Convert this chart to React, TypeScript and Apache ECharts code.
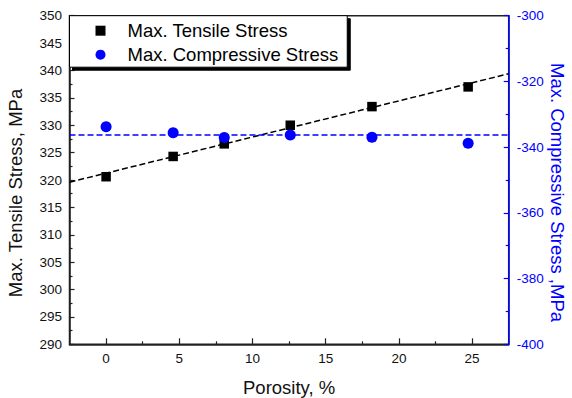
import React, { useEffect, useRef } from "react";
import * as echarts from "echarts";

const porosity = [0, 4.58, 8.07, 12.58, 18.16, 24.73];
const tensileStress = [320.6, 324.3, 326.6, 330.0, 333.4, 337.0];
const compressiveStress = [-333.8, -335.6, -337.1, -336.3, -337.0, -338.8];
const fitPorosity = [-2.5, 27.5];
const tensileFit = [319.6, 339.4];
const compressiveFit = [-336.3, -336.3];
const xMajorTicks = [0, 5, 10, 15, 20, 25];
const xMinorTicks = [2.5, 7.5, 12.5, 17.5, 22.5];

const FONT = "'Liberation Sans', Arial, sans-serif";
const BLUE = "#0000ff";
const BLACK = "#000000";

const pairs = (xs: number[], ys: number[]) => xs.map((x, i) => [x, ys[i]]);

export default function App() {
  const ref = useRef<HTMLDivElement>(null);
  useEffect(() => {
    if (!ref.current) return;
    const chart = echarts.init(ref.current, null, { renderer: "svg" });
    chart.setOption({
      animation: false,
      backgroundColor: "#ffffff",
      textStyle: { fontFamily: FONT },
      grid: {
        left: 69.5,
        right: 63.3,
        top: 15.7,
        bottom: 53.7,
        containLabel: false,
        outerBoundsMode: "none",
        show: true,
        borderColor: "#222",
        borderWidth: 1.5,
        backgroundColor: "transparent",
      },
      legend: {
        orient: "vertical",
        left: 69.5,
        top: 15.7,
        data: [
          { name: "Max. Tensile Stress", icon: "rect" },
          { name: "Max. Compressive Stress", icon: "circle" },
        ],
        itemWidth: 10,
        itemHeight: 10,
        itemGap: 5,
        padding: [5.5, 9, 3, 26],
        backgroundColor: "#ffffff",
        borderColor: "#000",
        borderWidth: 1,
        shadowColor: "#000",
        shadowBlur: 0,
        shadowOffsetX: 3,
        shadowOffsetY: 3,
        textStyle: { fontFamily: FONT, fontSize: 18.5, color: "#000", padding: [0, 0, 0, 17] },
      },
      xAxis: [
        {
          type: "value",
          min: -2.5,
          max: 27.5,
          position: "bottom",
          name: "Porosity, %",
          nameLocation: "middle",
          nameGap: 34,
          nameMoveOverlap: false,
          nameTextStyle: { fontFamily: FONT, fontSize: 18.5, color: "#111", verticalAlign: "top" },
          axisLine: { onZero: false, lineStyle: { color: "#222", width: 1.5 } },
          axisTick: { inside: true, length: 6, customValues: xMajorTicks, lineStyle: { color: "#222", width: 1.2 } },
          axisLabel: { customValues: xMajorTicks, margin: 7, fontFamily: FONT, fontSize: 13.5, color: "#111" },
          splitLine: { show: false },
        },
        {
          type: "value",
          min: -2.5,
          max: 27.5,
          position: "bottom",
          axisLine: { show: false, onZero: false },
          axisTick: { inside: true, length: 3, customValues: xMinorTicks, lineStyle: { color: "#222", width: 1.2 } },
          axisLabel: { show: false },
          splitLine: { show: false },
        },
      ],
      yAxis: [
        {
          type: "value",
          min: 290,
          max: 350,
          interval: 5,
          position: "left",
          name: "Max. Tensile Stress, MPa",
          nameLocation: "middle",
          nameGap: 45,
          nameMoveOverlap: false,
          nameTextStyle: { fontFamily: FONT, fontSize: 18.5, color: "#111", padding: [0, 26, 0, 0] },
          axisLine: { show: true, onZero: false, lineStyle: { color: "#222", width: 1.5 } },
          axisTick: { show: true, inside: true, length: 5, lineStyle: { color: "#222", width: 1.2 } },
          minorTick: { show: true, splitNumber: 2, length: 3, lineStyle: { color: "#222", width: 1.2 } },
          axisLabel: { margin: 7.5, fontFamily: FONT, fontSize: 13.5, color: "#111" },
          splitLine: { show: false },
        },
        {
          type: "value",
          min: -400,
          max: -300,
          interval: 20,
          position: "right",
          name: "Max. Compressive Stress ,MPa",
          nameLocation: "middle",
          nameRotate: -90,
          nameGap: 39,
          nameMoveOverlap: false,
          nameTextStyle: { fontFamily: FONT, fontSize: 18.5, color: BLUE, padding: [0, 0, 0, 25] },
          axisLine: { show: true, onZero: false, lineStyle: { color: BLUE, width: 1.5 } },
          axisTick: { show: true, inside: true, length: 5, lineStyle: { color: BLUE, width: 1.2 } },
          minorTick: { show: true, splitNumber: 2, length: 3, lineStyle: { color: BLUE, width: 1.2 } },
          axisLabel: { margin: 8, fontFamily: FONT, fontSize: 13.5, color: BLUE },
          splitLine: { show: false },
        },
      ],
      series: [
        {
          name: "Tensile fit",
          type: "line",
          xAxisIndex: 0,
          yAxisIndex: 0,
          data: pairs(fitPorosity, tensileFit),
          showSymbol: false,
          symbol: "none",
          lineStyle: { color: BLACK, width: 1.5, type: [6, 3] },
          z: 3,
        },
        {
          name: "Compressive fit",
          type: "line",
          xAxisIndex: 0,
          yAxisIndex: 1,
          data: pairs(fitPorosity, compressiveFit),
          showSymbol: false,
          symbol: "none",
          lineStyle: { color: BLUE, width: 1.5, type: [6, 3] },
          z: 3,
        },
        {
          name: "Max. Tensile Stress",
          type: "scatter",
          xAxisIndex: 0,
          yAxisIndex: 0,
          symbol: "rect",
          symbolSize: 9.5,
          itemStyle: { color: BLACK, opacity: 1 },
          data: pairs(porosity, tensileStress),
          z: 4,
        },
        {
          name: "Max. Compressive Stress",
          type: "scatter",
          xAxisIndex: 0,
          yAxisIndex: 1,
          symbol: "circle",
          symbolSize: 11,
          itemStyle: { color: BLUE, opacity: 1 },
          data: pairs(porosity, compressiveStress),
          z: 5,
        },
      ],
    });
    return () => chart.dispose();
  }, []);
  return (
    <div
      ref={ref}
      style={{ position: "fixed", left: 0, top: 0, width: 572, height: 398, background: "#fff" }}
    />
  );
}
